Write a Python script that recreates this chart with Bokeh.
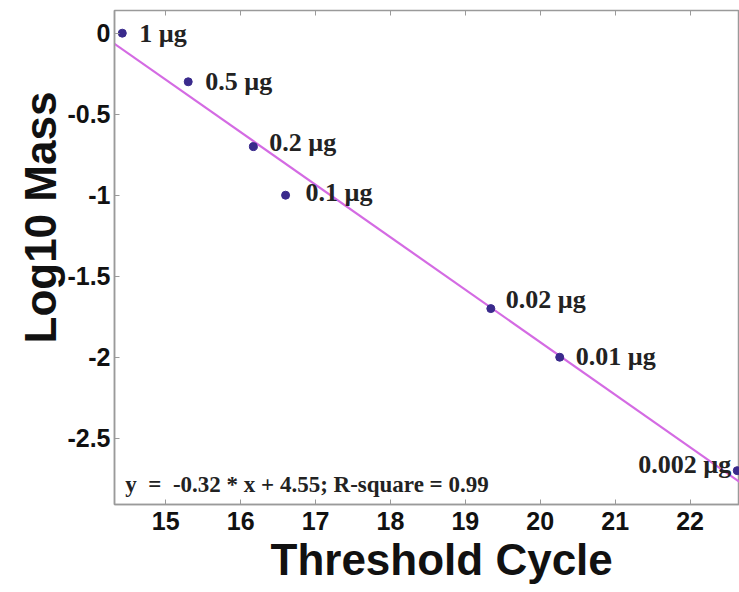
import numpy as np
from bokeh.plotting import figure
from bokeh.models import Range1d, FixedTicker, LinearAxis, Label, ColumnDataSource, Title
from bokeh.core.properties import value
from bokeh.embed import file_html
from bokeh.resources import INLINE

# ---- data ----
mass_labels = ["1 µg", "0.5 µg", "0.2 µg", "0.1 µg", "0.02 µg", "0.01 µg", "0.002 µg"]
threshold_cycle = [14.42, 15.30, 16.17, 16.60, 19.34, 20.26, 22.63]
log10_mass = [0.0, -0.30, -0.70, -1.0, -1.70, -2.0, -2.70]
x_ticks = [15, 16, 17, 18, 19, 20, 21, 22]
y_ticks = [0, -0.5, -1, -1.5, -2, -2.5]
equation_text = "y\u00a0\u00a0=\u00a0\u00a0-0.32 * x + 4.55; R-square = 0.99"
x_title = "Threshold Cycle"
y_title = "Log10 Mass"

# ---- label styling (offsets in pixels) ----
label_dx = [17, 17, 16, 20, 15, 16, -6]
label_dy = [0, 0, -4, -3, -9, -1, -6]
label_align = ["left"] * 6 + ["right"]

x0, x1 = 14.316, 22.66
y0, y1 = -2.909, 0.140

p = figure(width=739, height=592, output_backend="svg", toolbar_location=None,
           x_range=Range1d(x0, x1), y_range=Range1d(y0, y1),
           min_border_left=114, min_border_right=0, min_border_top=10,
           min_border_bottom=88, background_fill_color="white",
           border_fill_color="white")
p.grid.visible = False
p.outline_line_color = "#9a9a9a"
p.outline_line_width = 1.5

axis_grey = "#9a9a9a"
for ax in (p.xaxis[0], p.yaxis[0]):
    ax.axis_line_color = axis_grey
    ax.axis_line_width = 1.5
    ax.major_tick_line_color = axis_grey
    ax.major_tick_in = 5
    ax.major_tick_out = 0
    ax.minor_tick_line_color = None
    ax.major_label_text_font = "Liberation Sans"
    ax.major_label_text_font_style = "bold"
    ax.major_label_text_font_size = "25px"
    ax.major_label_text_color = "#111111"

p.xaxis[0].ticker = FixedTicker(ticks=x_ticks)
p.yaxis[0].ticker = FixedTicker(ticks=y_ticks)
p.yaxis[0].major_label_overrides = {t: f"{t:g}" for t in y_ticks}
p.xaxis[0].major_label_standoff = 7
p.yaxis[0].major_label_standoff = 4

top_axis = LinearAxis(ticker=FixedTicker(ticks=x_ticks), axis_line_color=None,
                      major_tick_line_color=axis_grey, major_tick_in=5, major_tick_out=0,
                      minor_tick_line_color=None,
                      major_label_overrides={t: "" for t in x_ticks},
                      major_label_standoff=0)
p.add_layout(top_axis, "above")

# regression line fitted to the points
slope, intercept = np.polyfit(threshold_cycle, log10_mass, 1)
fit_x = np.array([x0, x1])
p.line(fit_x, slope * fit_x + intercept, line_color="#d46be3", line_width=2.2)

src = ColumnDataSource(dict(x=threshold_cycle, y=log10_mass, label=mass_labels,
                            dx=label_dx, dy=label_dy, align=label_align))
p.scatter("x", "y", source=src, size=8, fill_color="#3a2a8c", line_color="#3a2a8c")
p.text("x", "y", text="label", source=src, x_offset="dx", y_offset="dy",
       text_align="align", text_baseline="middle",
       text_font=value("Liberation Serif"), text_font_style="bold",
       text_font_size="26px", text_color="#222222")

p.add_layout(Label(x=14.46, y=-2.785, text=equation_text,
                   text_font="Liberation Serif", text_font_style="bold",
                   text_font_size="23px", text_color="#222222",
                   text_baseline="alphabetic", text_align="left"))

p.add_layout(Title(text=x_title, align="left", offset=156, text_font="Liberation Sans",
                   text_font_style="bold", text_font_size="44px", text_color="#111111",
                   standoff=0), "below")
p.add_layout(Title(text=y_title, align="left", offset=161, text_font="Liberation Sans",
                   text_font_style="bold", text_font_size="44px", text_color="#111111",
                   standoff=0), "left")

open("out.html", "w").write(file_html(p, INLINE))
